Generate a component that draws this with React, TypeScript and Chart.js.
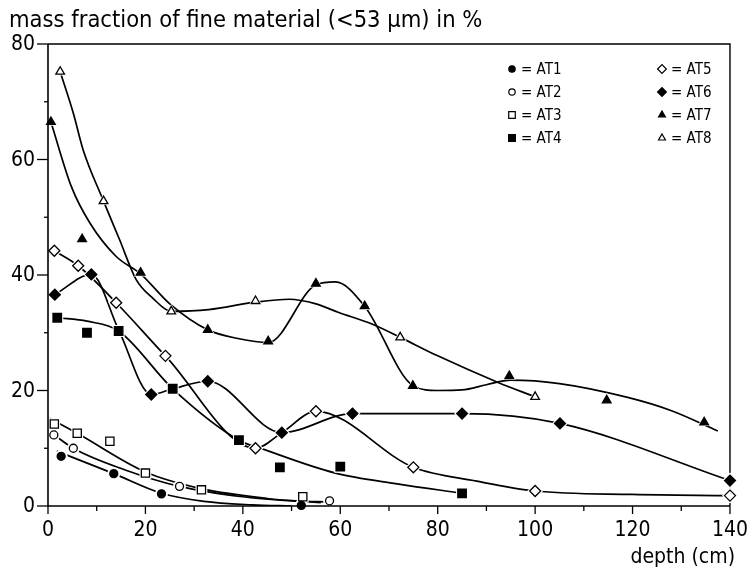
import React, { useEffect, useRef } from 'react';
import { Chart, registerables } from 'chart.js';
import { drawPoint } from 'chart.js/helpers';

Chart.register(...registerables);

const FONT = "'Liberation Sans Narrow', 'DejaVu Sans Condensed', 'Arial Narrow', sans-serif";

const titleText = 'mass fraction of fine material (<53 µm) in %';
const xAxisText = 'depth (cm)';
const xTicks = [0, 20, 40, 60, 80, 100, 120, 140];
const yTicks = [0, 20, 40, 60, 80];
const seriesNames = ['AT1', 'AT2', 'AT3', 'AT4', 'AT5', 'AT6', 'AT7', 'AT8'];

// measured points (depth cm, mass fraction %)
const at1X = [2.7, 13.5, 23.3, 52];
const at1Y = [8.6, 5.6, 2.1, 0.1];
const at2X = [1.2, 5.2, 27, 57.8];
const at2Y = [12.3, 10, 3.4, 0.9];
const at3X = [1.3, 6, 12.7, 20, 31.5, 52.3];
const at3Y = [14.2, 12.6, 11.2, 5.7, 2.8, 1.6];
const at4X = [1.9, 8, 14.5, 25.6, 39.2, 47.6, 60, 85];
const at4Y = [32.6, 30, 30.3, 20.3, 11.4, 6.7, 6.8, 2.2];
const at5X = [1.3, 6.2, 14, 24.1, 42.6, 55, 75, 100, 140];
const at5Y = [44.2, 41.6, 35.2, 26, 10, 16.4, 6.7, 2.6, 1.8];
const at6X = [1.4, 8.9, 21.2, 32.8, 48, 62.5, 85, 105.1, 140];
const at6Y = [36.6, 40.1, 19.3, 21.6, 12.7, 16, 16, 14.3, 4.4];
const at7X = [0.6, 7, 19, 32.8, 45.2, 55, 65, 74.9, 94.7, 114.7, 134.7];
const at7Y = [66.5, 46.2, 40.4, 30.5, 28.5, 38.5, 34.6, 20.8, 22.5, 18.3, 14.5];
const at8X = [2.5, 11.4, 25.3, 42.6, 72.3, 100];
const at8Y = [75.2, 52.8, 33.7, 35.5, 29.2, 18.9];

// hand-drawn trend curves
const at1CurveX = [1.8, 13.5, 23.3, 32, 42, 50];
const at1CurveY = [9.5, 5.6, 2.2, 0.8, 0.2, 0];
const at2CurveX = [0.2, 5.2, 16, 27, 40, 50, 58];
const at2CurveY = [13, 10, 6.2, 3.4, 1.6, 0.9, 0.7];
const at3CurveX = [0.3, 6, 20, 31.5, 45, 56];
const at3CurveY = [15.2, 12.6, 5.9, 3.0, 1.3, 0.6];
const at4CurveX = [1.9, 8, 14.5, 25.6, 39.2, 44.3, 59, 72, 85];
const at4CurveY = [32.6, 32, 30.3, 20.3, 11.4, 9.8, 5.7, 3.8, 2.2];
const at5CurveX = [1.3, 6.2, 14, 24.1, 42.6, 48, 55, 75, 88, 100, 120, 140];
const at5CurveY = [44.2, 41.6, 35.2, 26, 10, 12.7, 16.4, 6.7, 4.3, 2.6, 2.0, 1.8];
const at6CurveX = [1.4, 8.9, 14.5, 21.2, 25.6, 32.8, 48, 62.5, 85, 105.1, 140];
const at6CurveY = [36.6, 40.1, 30.5, 19.3, 20.3, 21.6, 12.7, 16, 16, 14.3, 4.4];
const at7CurveX = [0.6, 4.8, 8.6, 14, 19, 25, 32.8, 39, 45.2, 55, 59, 65, 75, 80, 85, 90, 95, 105, 119, 128, 137.5];
const at7CurveY = [66.5, 55.3, 49, 43.2, 40.2, 35, 30.5, 29, 28.3, 38.3, 38.8, 34.6, 20.8, 20, 20.1, 21, 21.8, 21.2, 18.8, 16.5, 13];
const at8CurveX = [2.5, 5.2, 7.2, 11.4, 14.7, 18.1, 21.5, 25.3, 33, 42.6, 49.5, 55, 59.7, 66.5, 72.3, 80, 92.4, 100];
const at8CurveY = [75.2, 68, 61.7, 52.8, 46.1, 39.2, 36, 33.7, 34, 35.3, 35.8, 35, 33.5, 31.5, 29.2, 26, 21.4, 18.9];

const pointXs = [at1X, at2X, at3X, at4X, at5X, at6X, at7X, at8X];
const pointYs = [at1Y, at2Y, at3Y, at4Y, at5Y, at6Y, at7Y, at8Y];
const curveXs = [at1CurveX, at2CurveX, at3CurveX, at4CurveX, at5CurveX, at6CurveX, at7CurveX, at8CurveX];
const curveYs = [at1CurveY, at2CurveY, at3CurveY, at4CurveY, at5CurveY, at6CurveY, at7CurveY, at8CurveY];

const markerStyles = ['circle', 'circle', 'rect', 'rect', 'rectRot', 'rectRot', 'triangle', 'triangle'];
const markerFilled = [true, false, false, true, false, true, true, false];
const markerRadius = [4, 4, 5.8, 6, 5.5, 5.5, 5, 5];

const decorPlugin = {
  id: 'decor',
  beforeDatasetsDraw(chart: any) {
    const { ctx, chartArea: a } = chart;
    ctx.save();
    ctx.strokeStyle = '#000';
    ctx.lineWidth = 1.4;
    ctx.beginPath();
    ctx.moveTo(a.left, a.top);
    ctx.lineTo(a.right, a.top);
    ctx.lineTo(a.right, a.bottom);
    ctx.stroke();
    ctx.restore();
  },
  afterDatasetsDraw(chart: any) {
    const { ctx, chartArea: a } = chart;
    const xs = chart.scales.x;
    const ys = chart.scales.y;
    ctx.save();
    ctx.strokeStyle = '#000';
    ctx.lineWidth = 1.6;
    ctx.beginPath();
    ctx.moveTo(a.left, a.top);
    ctx.lineTo(a.left, a.bottom);
    ctx.lineTo(a.right, a.bottom);
    ctx.stroke();
    ctx.lineWidth = 1.3;
    // x ticks (major + minor)
    for (let v = xTicks[0]; v <= xTicks[xTicks.length - 1]; v += 10) {
      const px = xs.getPixelForValue(v);
      const len = xTicks.includes(v) ? 8 : 5;
      ctx.beginPath();
      ctx.moveTo(px, a.bottom);
      ctx.lineTo(px, a.bottom + len);
      ctx.stroke();
    }
    ctx.fillStyle = '#000';
    ctx.font = `21px ${FONT}`;
    ctx.textAlign = 'right';
    ctx.textBaseline = 'middle';
    for (let v = yTicks[0]; v <= yTicks[yTicks.length - 1]; v += 10) {
      const py = ys.getPixelForValue(v);
      const major = yTicks.includes(v);
      const len = major ? 11 : 4;
      ctx.beginPath();
      ctx.moveTo(a.left - len, py);
      ctx.lineTo(a.left, py);
      ctx.stroke();
      if (major) ctx.fillText(String(v), a.left - 13, py + 1);
    }
    // title and axis label
    ctx.font = `23.5px ${FONT}`;
    ctx.textAlign = 'left';
    ctx.textBaseline = 'alphabetic';
    ctx.fillText(titleText, 9, 27);
    ctx.font = `21px ${FONT}`;
    ctx.textAlign = 'right';
    ctx.fillText(xAxisText, 735, 563);

    // legend (two columns)
    ctx.font = `15px ${FONT}`;
    ctx.textAlign = 'left';
    ctx.textBaseline = 'middle';
    seriesNames.forEach((name, i) => {
      const col = i < 4 ? 0 : 1;
      const row = i % 4;
      const mx = col === 0 ? 512 : 662;
      const my = 69 + row * 23;
      ctx.fillStyle = markerFilled[i] ? '#000' : '#fff';
      ctx.strokeStyle = '#000';
      ctx.lineWidth = 1.2;
      drawPoint(ctx, { pointStyle: markerStyles[i], radius: markerRadius[i] * 0.8, rotation: 0, borderWidth: 1.2 } as any, mx, my);
      ctx.fillStyle = '#000';
      ctx.fillText('= ' + name, mx + 9, my + 1);
    });
    ctx.restore();
  },
};

export default function App() {
  const canvasRef = useRef<HTMLCanvasElement | null>(null);

  useEffect(() => {
    const canvas = canvasRef.current;
    if (!canvas) return;
    const datasets: any[] = [];
    seriesNames.forEach((name, i) => {
      datasets.push({
        type: 'line',
        label: name + ' curve',
        data: curveXs[i].map((x, j) => ({ x, y: curveYs[i][j] })),
        borderColor: '#000',
        borderWidth: 1.7,
        pointRadius: 0,
        cubicInterpolationMode: 'monotone',
        fill: false,
        order: 3,
      });
      const pts = pointXs[i].map((x, j) => ({ x, y: pointYs[i][j] }));
      datasets.push({
        type: 'scatter',
        label: name + ' halo',
        data: pts,
        pointStyle: markerStyles[i],
        pointRadius: markerRadius[i] + 2.5,
        backgroundColor: '#fff',
        borderColor: '#fff',
        borderWidth: 0,
        clip: false,
        order: 2,
      });
      datasets.push({
        type: 'scatter',
        label: name,
        data: pts,
        pointStyle: markerStyles[i],
        pointRadius: markerRadius[i],
        backgroundColor: markerFilled[i] ? '#000' : '#fff',
        borderColor: '#000',
        borderWidth: 1.3,
        clip: false,
        order: 1,
      });
    });

    const chart = new Chart(canvas, {
      type: 'scatter',
      data: { datasets },
      options: {
        responsive: false,
        animation: false,
        events: [],
        layout: { padding: { left: 8, right: 19, top: 44, bottom: 0 } },
        plugins: {
          legend: { display: false },
          tooltip: { enabled: false },
          title: { display: false },
        },
        scales: {
          x: {
            type: 'linear',
            min: 0,
            max: 140,
            grid: { display: false },
            border: { display: false },
            ticks: {
              stepSize: 20,
              color: '#000',
              padding: 4,
              font: { family: FONT, size: 21 },
              maxRotation: 0,
            },
            afterFit: (s: any) => { s.height = 68; },
          },
          y: {
            type: 'linear',
            min: 0,
            max: 80,
            grid: { display: false },
            border: { display: false },
            ticks: { display: false, stepSize: 20 },
            afterFit: (s: any) => { s.width = 40; },
          },
        },
      },
      plugins: [decorPlugin],
    });
    return () => chart.destroy();
  }, []);

  return (
    <div style={{ position: 'absolute', left: 0, top: 0, width: 752, height: 574, background: '#fff' }}>
      <canvas ref={canvasRef} width={752} height={574} style={{ display: 'block' }} />
    </div>
  );
}
